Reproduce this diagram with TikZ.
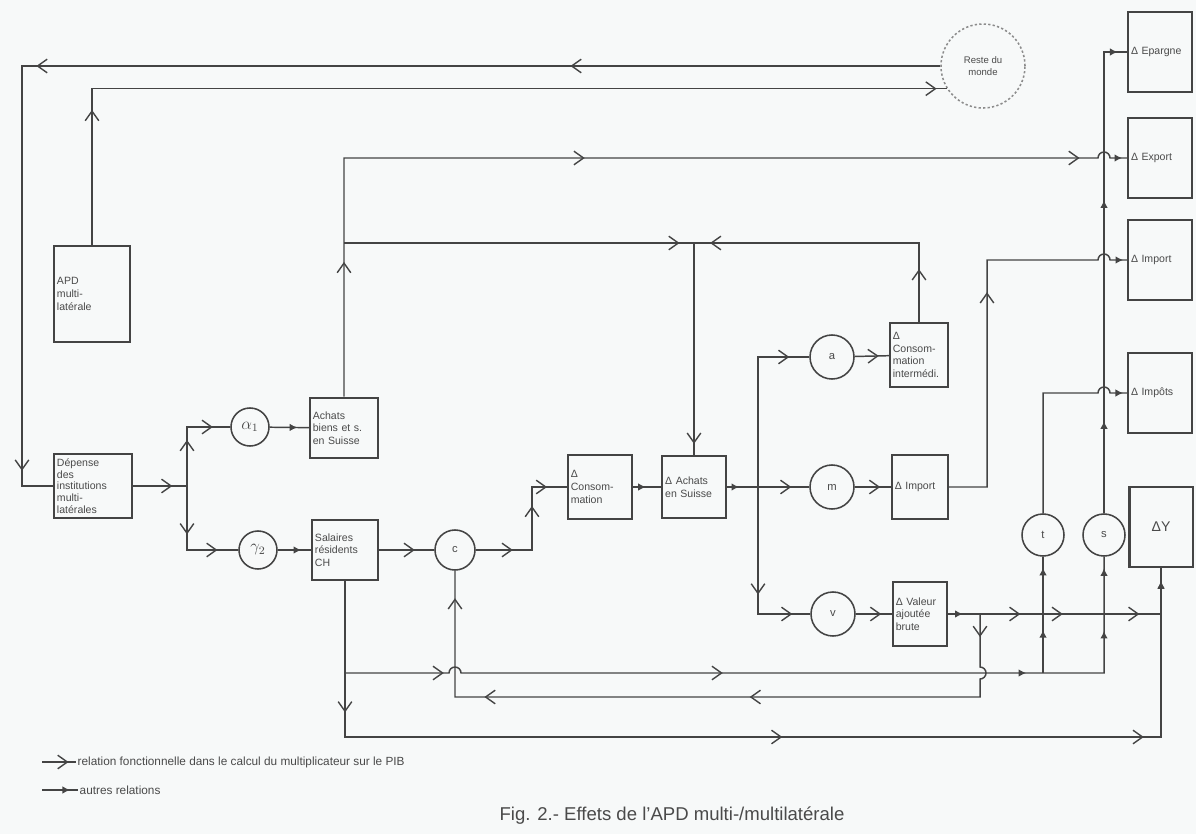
\documentclass[tikz,border=0pt]{standalone}
\usepackage{fontspec}
\setmainfont{Liberation Sans}
\usetikzlibrary{arrows.meta, decorations.markings, calc}
\definecolor{paper}{HTML}{F7F9F9}
\definecolor{inkline}{HTML}{444444}
\definecolor{inktext}{HTML}{4A4A4A}
\definecolor{worldline}{HTML}{8C8C8C}
\tikzset{
  blk/.style 2 args={rectangle, draw=inkline, line width=1.3pt, align=left,
               text width=#1, minimum height=#2, inner sep=2pt,
               font=\fontsize{7.5}{9}\selectfont, text=inktext},
  outbox/.style={blk={1.45cm}{2.0cm}},
  coef/.style={circle, draw=inkline, line width=1.1pt, minimum size=0.95cm,
               inner sep=0pt, font=\fontsize{8}{9}\selectfont, text=inktext},
  world/.style={circle, draw=worldline, dash pattern=on 1.6pt off 1.6pt,
                line width=1.1pt, minimum size=2.1cm, inner sep=0pt, align=center,
                font=\fontsize{6.8}{8}\selectfont, text=inktext},
  wire/.style={draw=inkline, line width=1.05pt},
  ochev/.style={postaction={decorate, decoration={markings,
      mark=at position #1 with {\arrow{Straight Barb[length=2.4mm, width=3.4mm, line width=1pt]}}}}},
  fchev/.style={postaction={decorate, decoration={markings,
      mark=at position #1 with {\arrow{Latex[length=1.9mm, width=1.9mm]}}}}},
  legtext/.style={font=\fontsize{8.4}{9}\selectfont, text=inktext, inner sep=1pt},
  figtitle/.style={font=\fontsize{13.2}{15}\selectfont, text=inktext},
}
\def\hop{6}

\begin{document}
\begin{tikzpicture}[x=0.025cm, y=-0.025cm]
% Page: coordinates are read off the scan, origin top left
\fill[paper] (0,0) rectangle (1196,834);
\useasboundingbox (0,0) rectangle (1196,834);

% Sources and rest of the world
\node[blk={1.75cm}{2.38cm}] (apd) at (92,294) {APD\\multi-\\latérale};
\node[blk={1.8cm}{1.58cm}, font=\fontsize{7.5}{8.3}\selectfont] (dep) at (93,486)
     {Dépense\\des\\institutions\\multi-\\latérales};
\node[world] (rdm) at (983,66) {Reste du\\monde};

% First round: purchases and wages
\node[coef] (alpha) at (250,427) {\large$\alpha_1$};
\node[coef] (gamma) at (258,550) {\large$\gamma_2$};
\node[blk={1.56cm}{1.52cm}] (achats) at (344,428) {Achats\\biens et s.\\en Suisse};
\node[blk={1.5cm}{1.52cm}]  (sal)    at (345,550) {Salaires\\résidents\\CH};
\node[coef, minimum size=1.0cm] (cc) at (455,550) {c};

% Multiplier loop
\node[blk={1.46cm}{1.58cm}] (dcons) at (600,487) {Δ\\Consom-\\mation};
\node[blk={1.44cm}{1.55cm}] (dach)  at (694,487) {Δ Achats\\en Suisse};
\node[coef, minimum size=1.1cm] (ca) at (832,357) {a};
\node[coef, minimum size=1.1cm] (cm) at (832,487) {m};
\node[coef, minimum size=1.1cm] (cv) at (833,614) {v};
\node[blk={1.31cm}{1.6cm}]  (dci)  at (919,355) {Δ\\Consom-\\mation\\intermédi.};
\node[blk={1.26cm}{1.62cm}] (dimp) at (920,487) {Δ Import};
\node[blk={1.21cm}{1.6cm}]  (dval) at (920,614) {Δ Valeur\\ajoutée\\brute};
\node[coef, minimum size=1.05cm] (ct) at (1043,535) {t};
\node[coef, minimum size=1.05cm] (cs) at (1104,535) {s};

% Results column
\node[outbox] (oep)  at (1160,52)  {Δ Epargne};
\node[outbox] (oexp) at (1160,158) {Δ Export};
\node[outbox] (oimp) at (1160,260) {Δ Import};
\node[outbox] (otax) at (1160,393) {Δ Impôts};
\node[outbox, line width=1.9pt, align=center, font=\fontsize{10}{11}\selectfont] (dy) at (1161,527) {ΔY};

% Junctions
\coordinate (railL) at (22,66);
\coordinate (split1) at (187,486);
\coordinate (jA) at (344,243);
\coordinate (jC) at (532,550);
\coordinate (jD) at (758,487);
\coordinate (jE) at (987,487);
\coordinate (jG) at (980,614);
\coordinate (jH) at (345,673);
\coordinate (botL) at (345,737);
\coordinate (retR) at (980,697);
\coordinate (retL) at (cc.south |- retR);
\coordinate (jF) at (dy.south |- dval.east);

% Outer loop through the rest of the world
\draw[wire, ochev=0.27, ochev=0.66, ochev=0.966] (rdm.west) -- (railL) -- (railL |- dep.west) -- (dep.west);
\draw[wire, ochev=0.134, ochev=0.99] (apd.north) -- (apd.north |- rdm.212) -- (rdm.212);

% Split of the spending
\draw[wire, ochev=0.73] (dep.east) -- (split1);
\draw[wire, ochev=0.45, ochev=0.83] (split1) -- (split1 |- alpha.west) -- (alpha.west);
\draw[wire, ochev=0.42, ochev=0.82] (split1) -- (split1 |- gamma.west) -- (gamma.west);
\draw[wire, fchev=0.7] (alpha) -- (achats);
\draw[wire, fchev=0.7] (gamma) -- (sal);

% Purchases feed exports and the domestic loop
\draw[wire, ochev=0.131, ochev=0.466, ochev=0.947, fchev=0.995] (achats.north) -- (achats.north |- oexp.west)
  -- ($(cs.north |- oexp.west)+(-\hop,0)$) arc[start angle=180, end angle=360, radius=\hop] -- (oexp.west);
\draw[wire, ochev=0.597, ochev=0.98] (jA) -- (jA -| dach.north) -- (dach.north);
\draw[wire, ochev=0.174, ochev=0.947] (dci.north) -- (dci.north |- jA) -- (jA -| dach.north);

% Wages, consumption, purchases
\draw[wire, ochev=0.65] (sal) -- (cc);
\draw[wire, ochev=0.24, ochev=0.65, ochev=0.87] (cc.east) -- (jC) -- (jC |- dcons.west) -- (dcons.west);
\draw[wire, fchev=0.45] (dcons) -- (dach);
\draw[wire, fchev=0.4] (dach.east) -- (jD);
\draw[wire, ochev=0.65] (jD) -- (cm);
\draw[wire, ochev=0.89] (jD) -- (jD |- ca.west) -- (ca.west);
\draw[wire, ochev=0.6, ochev=0.9] (jD) -- (jD |- cv.west) -- (cv.west);
\foreach \c/\b in {ca/dci, cm/dimp, cv/dval} { \draw[wire, ochev=0.7] (\c) -- (\b); }

% Imports and value added
\draw[wire, ochev=0.565, fchev=0.99] (dimp.east) -- (jE) -- (jE |- oimp.west)
  -- ($(cs.north |- oimp.west)+(-\hop,0)$) arc[start angle=180, end angle=360, radius=\hop] -- (oimp.west);
\draw[wire, fchev=0.057, ochev=0.28, ochev=0.444, ochev=0.74, fchev=0.95] (dval.east) -- (jF) -- (dy.south);
\draw[wire, ochev=0.031, ochev=0.432, ochev=0.79, ochev=0.963] (jG)
  -- ($(jG |- jH)+(0,-\hop)$) arc[start angle=-90, end angle=90, radius=\hop] -- (retR) -- (retL) -- (cc.south);

% Wages straight to income, taxes and savings
\draw[wire, ochev=0.115, ochev=0.52, ochev=0.837, fchev=0.989] (sal.south) -- (botL) -- (botL -| dy.south) -- (dy.south);
\draw[wire, ochev=0.112, ochev=0.436, fchev=0.78, fchev=0.916, fchev=0.987] (jH)
  -- ($(cc.south |- jH)+(-\hop,0)$) arc[start angle=180, end angle=360, radius=\hop] -- (jH -| cs.south) -- (cs.south);
\draw[wire, fchev=0.37, fchev=0.906] (jH -| ct.south) -- (ct.south);
\draw[wire, fchev=0.98] (ct.north) -- (ct.north |- otax.west)
  -- ($(cs.north |- otax.west)+(-\hop,0)$) arc[start angle=180, end angle=360, radius=\hop] -- (otax.west);
\draw[wire, fchev=0.19, fchev=0.646, fchev=0.98] (cs.north) -- (cs.north |- oep.west) -- (oep.west);

% Legend and caption
\coordinate (lgA) at (42,762);
\coordinate (lgB) at (76,762);
\coordinate (lgC) at (42,790);
\coordinate (lgD) at (78,790);
\draw[wire, ochev=0.78] (lgA) -- (lgB);
\draw[wire, fchev=0.78] (lgC) -- (lgD);
\node[legtext, anchor=west] (lgT1) at (lgB) {relation fonctionnelle dans le calcul du multiplicateur sur le PIB};
\node[legtext, anchor=west] (lgT2) at (lgD) {autres relations};
\node[figtitle] (title) at (672,816) {Fig. 2.- Effets de l'APD multi-/multilatérale};

\end{tikzpicture}
\end{document}
